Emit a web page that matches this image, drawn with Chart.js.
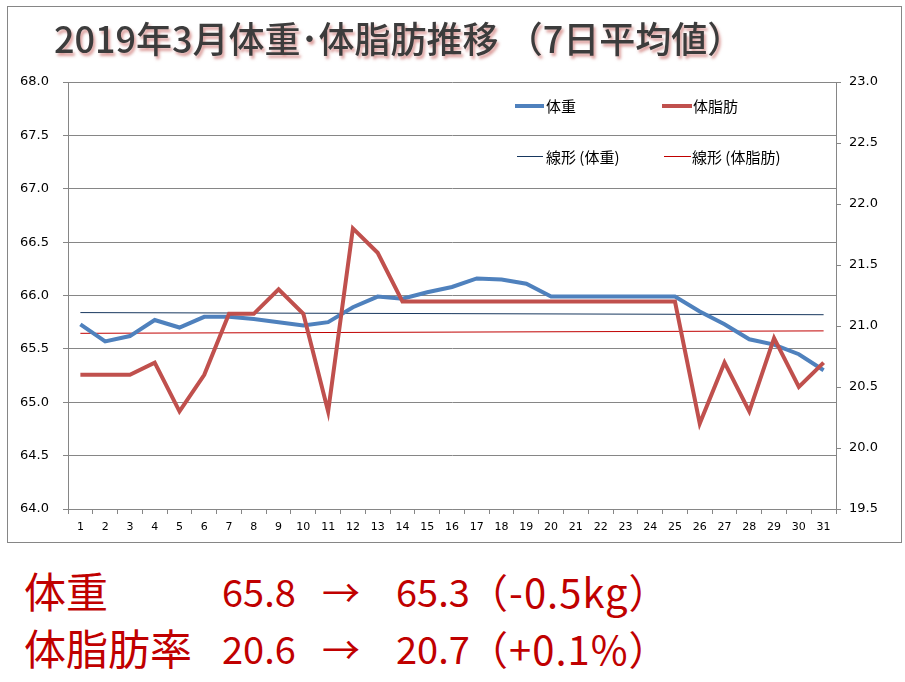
<!DOCTYPE html>
<html>
<head>
<meta charset="utf-8">
<script src="https://cdn.jsdelivr.net/npm/chart.js@4/dist/chart.umd.min.js"></script>
<style>
  body { margin: 0; background: #fff; width: 905px; height: 682px; position: relative; overflow: hidden; }
  #box { position: absolute; left: 7px; top: 6px; width: 893px; height: 535px; border: 1px solid #868686; }
  #title { position: absolute; left: 54px; top: 11px; font: 500 36px "Noto Sans CJK JP", sans-serif; color: #3c3c3c;
           text-shadow: 2px 3px 3px rgba(192, 80, 77, 0.55); white-space: nowrap; }
  .sum { position: absolute; font: 38px "Noto Sans CJK JP", sans-serif; color: #c00000; line-height: 1; white-space: nowrap; }
  .big { font-size: 42px; }
  .par { font-size: 40px; letter-spacing: 1px; }
</style>
</head>
<body>
<div id="box"><canvas id="chart" width="893" height="535"></canvas></div>
<div id="title">2019年3月体重･体脂肪推移 （7日平均値）</div>

<div class="sum big" style="left:24px;top:569px">体重</div>
<div class="sum" style="left:222px;top:572px">65.8</div>
<div class="sum" style="left:322px;top:572px">→</div>
<div class="sum" style="left:396px;top:572px">65.3</div>
<div class="sum par" style="left:468px;top:571px">（-0.5kg）</div>

<div class="sum big" style="left:24px;top:626px">体脂肪率</div>
<div class="sum" style="left:222px;top:629px">20.6</div>
<div class="sum" style="left:322px;top:629px">→</div>
<div class="sum" style="left:396px;top:629px">20.7</div>
<div class="sum par" style="left:468px;top:628px">（+0.1%）</div>

<script>
// days of March
var days = ['1','2','3','4','5','6','7','8','9','10','11','12','13','14','15','16',
            '17','18','19','20','21','22','23','24','25','26','27','28','29','30','31'];

// 7-day averages
var weight = [65.73, 65.57, 65.62, 65.77, 65.70, 65.80, 65.80, 65.78, 65.75, 65.72, 65.75,
              65.89, 65.99, 65.97, 66.03, 66.08, 66.16, 66.15, 66.11, 65.99, 65.99, 65.99,
              65.99, 65.99, 65.99, 65.85, 65.73, 65.59, 65.54, 65.45, 65.30];
var bodyFat = [20.6, 20.6, 20.6, 20.7, 20.3, 20.6, 21.1, 21.1, 21.3, 21.1, 20.3,
               21.8, 21.6, 21.2, 21.2, 21.2, 21.2, 21.2, 21.2, 21.2, 21.2, 21.2,
               21.2, 21.2, 21.2, 20.2, 20.7, 20.3, 20.9, 20.5, 20.7];

// linear trend end points (day 1, day 31)
var weightTrend = [65.84, 65.82];
var fatTrend = [20.94, 20.96];

var tickFont = { family: '"DejaVu Sans", sans-serif', size: 13 };
var gridColor = '#868686';

// legend drawn inside the plot, 2 x 2 like Excel
var legendBox = {
  id: 'legendBox',
  afterDraw: function(chart) {
    var ctx = chart.ctx;
    var spots = [
      { i: 0, x1: 507, x2: 536, tx: 538, y: 99 },
      { i: 1, x1: 654, x2: 684, tx: 685, y: 99 },
      { i: 2, x1: 509, x2: 535, tx: 538, y: 149.5 },
      { i: 3, x1: 656, x2: 683, tx: 684, y: 149.5 }
    ];
    ctx.save();
    ctx.font = '15px "Noto Sans CJK JP", sans-serif';
    ctx.textBaseline = 'middle';
    ctx.fillStyle = '#000';
    spots.forEach(function(s) {
      var ds = chart.data.datasets[s.i];
      ctx.strokeStyle = ds.borderColor;
      ctx.lineWidth = ds.borderWidth;
      ctx.beginPath();
      ctx.moveTo(s.x1, s.y);
      ctx.lineTo(s.x2, s.y);
      ctx.stroke();
      ctx.fillText(ds.label, s.tx, Math.round(s.y));
    });
    ctx.restore();
  }
};

new Chart(document.getElementById('chart'), {
  type: 'line',
  data: {
    labels: days,
    datasets: [{
      label: '体重',
      data: weight,
      yAxisID: 'y',
      borderColor: '#4f81bd',
      borderWidth: 4,
      order: 1
    }, {
      label: '体脂肪',
      data: bodyFat,
      yAxisID: 'y2',
      borderColor: '#c0504d',
      borderWidth: 4,
      order: 0
    }, {
      label: '線形 (体重)',
      data: [{ x: days[0], y: weightTrend[0] }, { x: days[days.length - 1], y: weightTrend[1] }],
      yAxisID: 'y',
      borderColor: '#17375e',
      borderWidth: 1,
      order: 2
    }, {
      label: '線形 (体脂肪)',
      data: [{ x: days[0], y: fatTrend[0] }, { x: days[days.length - 1], y: fatTrend[1] }],
      yAxisID: 'y2',
      borderColor: '#c00000',
      borderWidth: 1,
      order: 3
    }]
  },
  options: {
    responsive: false,
    animation: false,
    layout: { padding: { top: 75, left: 0, right: 0, bottom: 0 } },
    elements: { point: { radius: 0 }, line: { tension: 0 } },
    plugins: { legend: { display: false }, tooltip: { enabled: false } },
    scales: {
      x: {
        offset: true,
        grid: { offset: true, drawOnChartArea: false, tickLength: 5, color: gridColor },
        border: { color: gridColor },
        ticks: { color: '#000', font: { family: '"DejaVu Sans", sans-serif', size: 11 }, padding: 7, maxRotation: 0, autoSkip: false },
        afterFit: function(s) { s.height = 33; }
      },
      y: {
        position: 'left',
        min: 64, max: 68,
        grid: { color: gridColor, tickLength: 5 },
        border: { color: gridColor },
        ticks: { stepSize: 0.5, color: '#000', font: tickFont, padding: 14,
                 callback: function(v) { return v.toFixed(1); } },
        afterFit: function(s) { s.width = 60; }
      },
      y2: {
        position: 'right',
        min: 19.5, max: 23,
        grid: { drawOnChartArea: false, color: gridColor, tickLength: 5 },
        border: { color: gridColor },
        ticks: { stepSize: 0.5, color: '#000', font: tickFont, padding: 8,
                 callback: function(v) { return v.toFixed(1); } },
        afterFit: function(s) { s.width = 65; }
      }
    }
  },
  plugins: [legendBox]
});
</script>
</body>
</html>
